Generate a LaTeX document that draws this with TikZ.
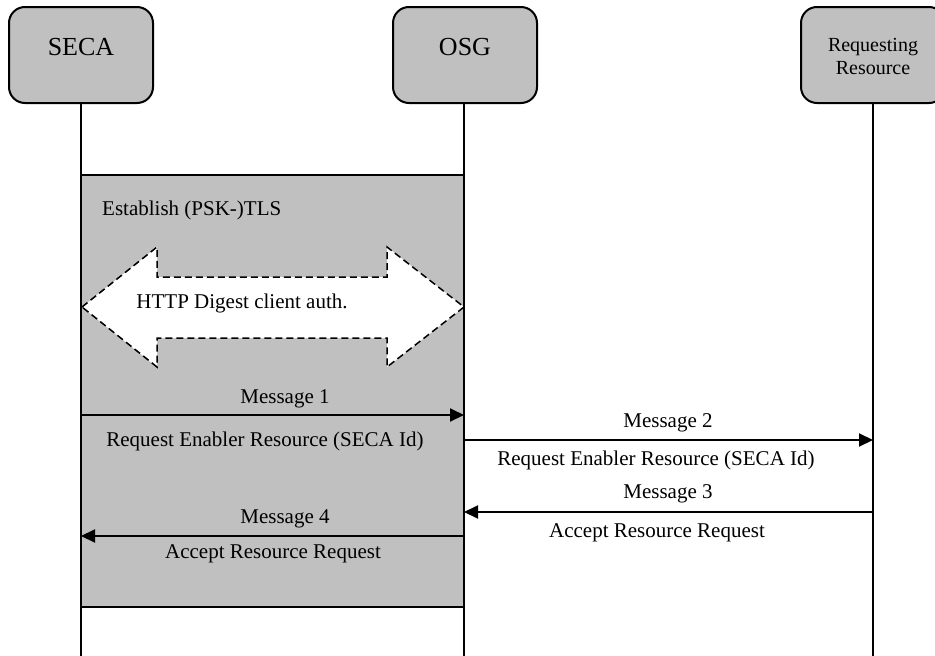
\documentclass[tikz,border=0pt]{standalone}
\usepackage{fontspec}
\setmainfont{Liberation Serif}
\usetikzlibrary{arrows.meta}
\definecolor{boxgray}{HTML}{C0C0C0}
\begin{document}
\begin{tikzpicture}[x=1pt,y=-1pt,
  actor/.style={draw, line width=2pt, fill=boxgray, rounded corners=16pt,
    minimum width=144pt, minimum height=96pt, inner sep=0pt},
  lifeline/.style={line width=2pt},
  msg/.style={line width=2pt, -{Triangle[length=14pt,width=13pt]}},
  txt/.style={font=\fontsize{21}{25}\selectfont, inner sep=0pt, anchor=base},
  hdr/.style={font=\fontsize{26}{30}\selectfont, inner sep=0pt},
  hdrs/.style={font=\fontsize{20}{23}\selectfont, inner sep=0pt, align=center}
]
\useasboundingbox (0,0) rectangle (935,656);
\fill[white] (0,0) rectangle (935,656);

% TLS region
\node (tls) [draw, line width=2pt, fill=boxgray, minimum width=383pt, minimum height=432pt, inner sep=0pt] at (272.5,391) {};

% double arrow
\draw[dashed, dash pattern=on 7pt off 4pt, line width=1.5pt, fill=white]
  (82,307) -- (157,247) -- (157,277) -- (387,277) -- (387,247) -- (464,307)
  -- (387,367) -- (387,338) -- (157,338) -- (157,367) -- cycle;

% actors
\node (seca) [actor] at (81,55) {};
\node (osg) [actor] at (465,55) {};
\node (rr) [actor] at (873,55) {};
\node (secat) [hdr] at (81,47) {SECA};
\node (osgt) [hdr] at (465,47) {OSG};
\node (rrt) [hdrs] at (873,56.5) {Requesting\\Resource};

% lifelines
\coordinate (secaend) at (81,656);
\coordinate (osgend) at (464,656);
\coordinate (rrend) at (873,656);
\draw[lifeline] (seca.south -| secaend) -- (secaend);
\draw[lifeline] (osg.south -| osgend) -- (osgend);
\draw[lifeline] (rr.south -| rrend) -- (rrend);

% message endpoints
\coordinate (m1a) at (81,415);  \coordinate (m1b) at (464,415);
\coordinate (m2a) at (464,440); \coordinate (m2b) at (873,440);
\coordinate (m3a) at (873,512); \coordinate (m3b) at (464,512);
\coordinate (m4a) at (464,536); \coordinate (m4b) at (81,536);
\draw[msg] (m1a) -- (m1b);
\draw[msg] (m2a) -- (m2b);
\draw[msg] (m3a) -- (m3b);
\draw[msg] (m4a) -- (m4b);

% texts
\node (est) [txt, anchor=base west] at (102,215) {Establish (PSK-)TLS};
\node (http) [txt] at (242,308) {HTTP Digest client auth.};
\node (l1) [txt] at (285,403) {Message 1};
\node (r1) [txt] at (265,446) {Request Enabler Resource (SECA Id)};
\node (l2) [txt] at (668,427) {Message 2};
\node (r2) [txt] at (656,465) {Request Enabler Resource (SECA Id)};
\node (l3) [txt] at (668,498) {Message 3};
\node (r3) [txt] at (657,537) {Accept Resource Request};
\node (l4) [txt] at (285,523) {Message 4};
\node (r4) [txt] at (273,558) {Accept Resource Request};
\end{tikzpicture}
\end{document}
